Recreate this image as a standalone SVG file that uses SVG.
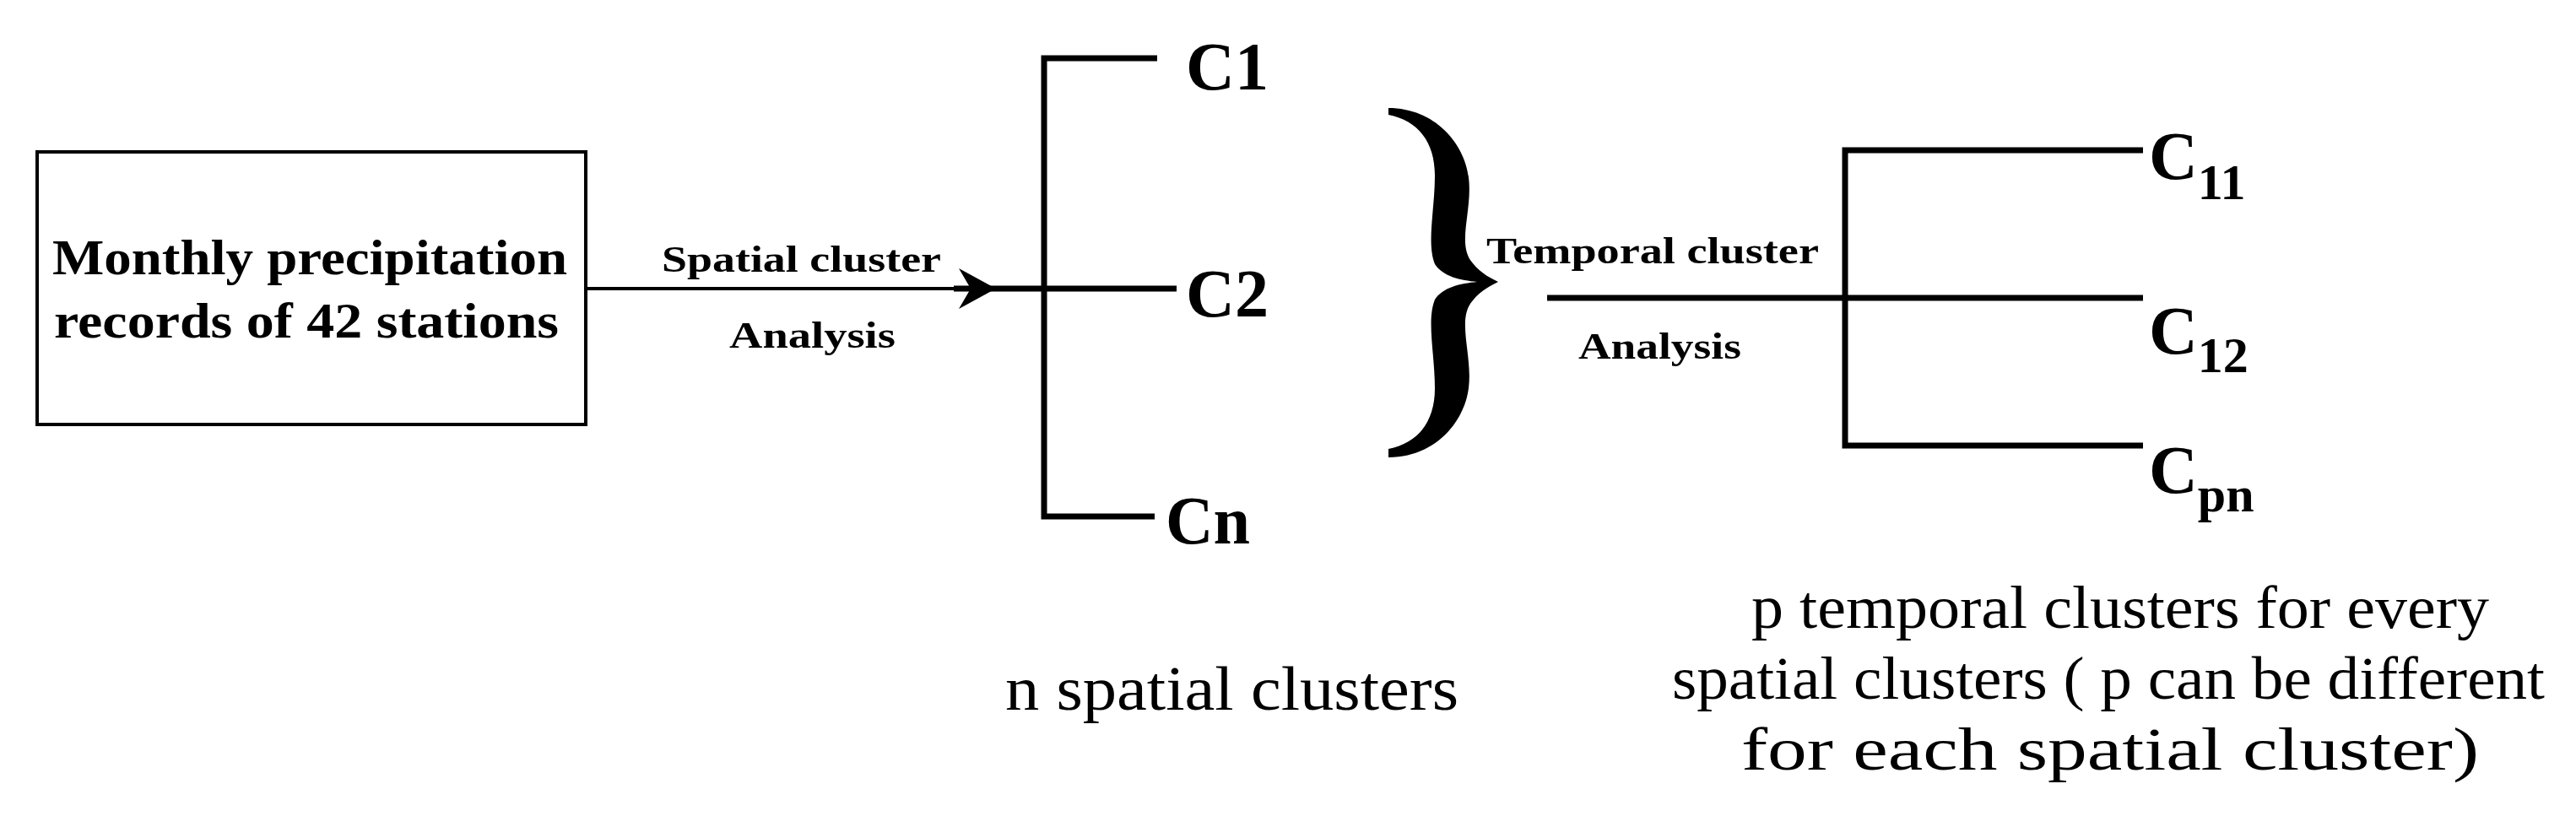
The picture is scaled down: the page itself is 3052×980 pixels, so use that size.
<svg xmlns="http://www.w3.org/2000/svg" width="3052" height="980" viewBox="0 0 3052 980">
<style>
.b{font-family:"Liberation Serif",serif;font-weight:bold;fill:#000}
.r{font-family:"Liberation Serif",serif;fill:#000}
.ln{stroke:#000;stroke-width:7;fill:none}
</style>
<rect width="3052" height="980" fill="#fff"/>
<g id="box">
<rect x="44" y="180" width="650" height="323" fill="#fff" stroke="#000" stroke-width="4"/>
<text class="b" font-size="60" x="62" y="325" textLength="610" lengthAdjust="spacingAndGlyphs">Monthly precipitation</text>
<text class="b" font-size="60" x="64" y="400" textLength="598" lengthAdjust="spacingAndGlyphs">records of 42 stations</text>
</g>
<g id="connectors">
<line x1="694" y1="342" x2="1140" y2="342" stroke="#000" stroke-width="4"/>
<polygon points="1180,342 1136,318 1150,342 1136,366" fill="#000"/>
<line x1="1130" y1="342" x2="1240" y2="342" class="ln"/>
<text class="b" font-size="44" x="784" y="322" textLength="331" lengthAdjust="spacingAndGlyphs">Spatial cluster</text>
<text class="b" font-size="44" x="864" y="412" textLength="197" lengthAdjust="spacingAndGlyphs">Analysis</text>
<polyline class="ln" points="1371,69 1237,69 1237,612 1368,612"/>
<line class="ln" x1="1237" y1="342" x2="1394" y2="342"/>
<line class="ln" x1="1833" y1="353" x2="2539" y2="353"/>
<polyline class="ln" points="2539,178 2186,178 2186,528 2539,528"/>
<text class="b" font-size="44" x="1761" y="312" textLength="394" lengthAdjust="spacingAndGlyphs">Temporal cluster</text>
<text class="b" font-size="44" x="1870" y="425" textLength="193" lengthAdjust="spacingAndGlyphs">Analysis</text>
</g>
<g id="spatial">
<text class="b" font-size="80" x="1405" y="106" textLength="98" lengthAdjust="spacingAndGlyphs">C1</text>
<text class="b" font-size="80" x="1405" y="375" textLength="98" lengthAdjust="spacingAndGlyphs">C2</text>
<text class="b" font-size="80" x="1381" y="644" textLength="100" lengthAdjust="spacingAndGlyphs">Cn</text>
<text class="r" font-size="74" x="1191" y="841" textLength="537" lengthAdjust="spacingAndGlyphs">n spatial clusters</text>
</g>
<g id="brace">
<path d="M1645,128 C1700,128 1735,170 1740,210 C1745,250 1725,290 1745,312 C1755,325 1768,330 1775,334 C1768,338 1755,343 1745,356 C1725,378 1745,420 1740,460 C1735,500 1700,542 1645,542 L1645,532 C1680,525 1700,500 1700,460 C1700,420 1690,380 1700,355 C1710,340 1730,336 1750,334 C1730,332 1710,328 1700,313 C1690,288 1700,248 1700,208 C1700,168 1680,143 1645,136 Z" fill="#000"/>
</g>
<g id="temporal">
<text class="b" font-size="80" x="2546" y="212">C<tspan font-size="60" dy="24">11</tspan></text>
<text class="b" font-size="80" x="2546" y="419">C<tspan font-size="60" dy="22">12</tspan></text>
<text class="b" font-size="80" x="2546" y="584">C<tspan font-size="60" dy="22">pn</tspan></text>
<text class="r" font-size="72" x="2075" y="744" textLength="874" lengthAdjust="spacingAndGlyphs">p temporal clusters for every</text>
<text class="r" font-size="72" x="1981" y="828" textLength="1034" lengthAdjust="spacingAndGlyphs">spatial clusters ( p can be different</text>
<text class="r" font-size="72" x="2063" y="912" textLength="874" lengthAdjust="spacingAndGlyphs">for each spatial cluster)</text>
</g>
</svg>
